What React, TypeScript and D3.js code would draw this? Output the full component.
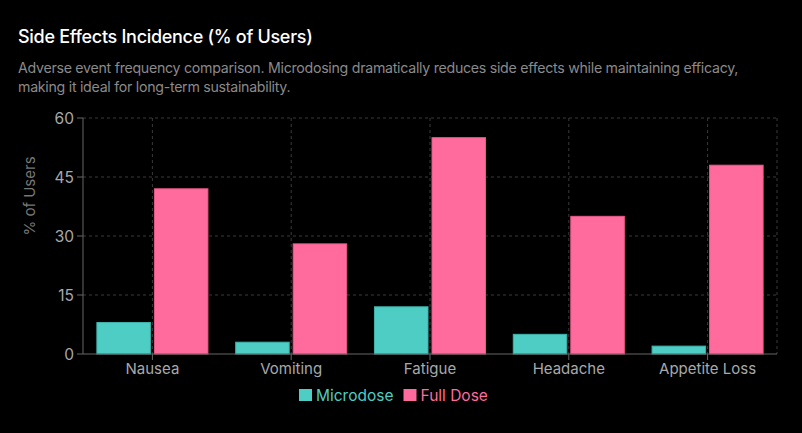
import { useEffect, useRef } from 'react';
import * as d3 from 'd3';

const CATEGORIES = ['Nausea', 'Vomiting', 'Fatigue', 'Headache', 'Appetite Loss'];
const MICRODOSE = [8, 3, 12, 5, 2];
const FULL_DOSE = [42, 28, 55, 35, 48];
const Y_TICKS = [0, 15, 30, 45, 60];

const SERIES = [
  { key: 'Microdose', values: MICRODOSE, color: '#4ecdc4', stroke: '#3fb3ab' },
  { key: 'Full Dose', values: FULL_DOSE, color: '#ff6b9d', stroke: '#e85a8a' },
];

const WIDTH = 802;
const HEIGHT = 433;
const FONT = 'Inter, "Noto Sans", sans-serif';

export default function App() {
  const svgRef = useRef<SVGSVGElement>(null);

  useEffect(() => {
    if (!svgRef.current) return;
    const svg = d3.select(svgRef.current);
    svg.selectAll('*').remove();

    const margin = { top: 118, right: 25, bottom: 79, left: 83 };
    const innerW = WIDTH - margin.left - margin.right;
    const innerH = HEIGHT - margin.top - margin.bottom;

    svg.append('rect').attr('width', WIDTH).attr('height', HEIGHT).attr('fill', '#000');

    // Header
    svg.append('text')
      .attr('x', 18).attr('y', 42.5)
      .attr('fill', '#fff')
      .attr('font-family', FONT)
      .attr('font-size', 18)
      .attr('font-weight', 500)
      .attr('letter-spacing', -0.3)
      .text('Side Effects Incidence (% of Users)');

    const sub = [
      'Adverse event frequency comparison. Microdosing dramatically reduces side effects while maintaining efficacy,',
      'making it ideal for long-term sustainability.',
    ];
    sub.forEach((line, i) => {
      svg.append('text')
        .attr('x', 18).attr('y', 73 + i * 18.5)
        .attr('fill', '#8a8a8a')
        .attr('font-family', FONT)
        .attr('font-size', 14.2)
        .attr('letter-spacing', -0.28)
        .text(line);
    });

    const g = svg.append('g').attr('transform', `translate(${margin.left},${margin.top})`);

    const y = d3.scaleLinear().domain([0, 60]).range([innerH, 0]);

    // category slots with 10% gap on each side, 4px between the two bars
    const x = d3.scaleBand<string>().domain(CATEGORIES).range([0, innerW]).padding(0);
    const slot = x.bandwidth();
    const barGap = 4;
    const pad = slot * 0.1;
    const barW = (slot - 2 * pad - barGap) / SERIES.length;

    // Grid
    const grid = g.append('g').attr('stroke', '#3a3a3a').attr('stroke-dasharray', '3 3');
    Y_TICKS.filter(t => t > 0).forEach(t => {
      grid.append('line').attr('x1', 0).attr('x2', innerW).attr('y1', y(t)).attr('y2', y(t));
    });
    CATEGORIES.forEach(c => {
      const cx = (x(c) ?? 0) + slot / 2;
      grid.append('line').attr('x1', cx).attr('x2', cx).attr('y1', 0).attr('y2', innerH);
    });
    grid.append('line').attr('x1', innerW).attr('x2', innerW).attr('y1', 0).attr('y2', innerH);

    // Bars
    SERIES.forEach((s, si) => {
      g.append('g')
        .selectAll('rect')
        .data(CATEGORIES)
        .join('rect')
        .attr('x', c => (x(c) ?? 0) + pad + si * (barW + barGap))
        .attr('y', (_, i) => y(s.values[i]))
        .attr('width', barW)
        .attr('height', (_, i) => innerH - y(s.values[i]))
        .attr('fill', s.color)
        .attr('stroke', s.stroke)
        .attr('stroke-width', 1);
    });

    // Axes
    const axisColor = '#666';
    const tickColor = '#a7a9ac';
    const xAxis = g.append('g').attr('transform', `translate(0,${innerH})`);
    xAxis.append('line').attr('x1', 0).attr('x2', innerW).attr('stroke', axisColor);
    CATEGORIES.forEach(c => {
      const cx = (x(c) ?? 0) + slot / 2;
      xAxis.append('line').attr('x1', cx).attr('x2', cx).attr('y1', 0).attr('y2', 6).attr('stroke', axisColor);
      xAxis.append('text')
        .attr('x', cx).attr('y', 20)
        .attr('text-anchor', 'middle')
        .attr('fill', tickColor)
        .attr('font-family', FONT)
        .attr('font-size', 15)
        .text(c);
    });

    const yAxis = g.append('g');
    yAxis.append('line').attr('y1', 0).attr('y2', innerH).attr('stroke', axisColor);
    Y_TICKS.forEach(t => {
      yAxis.append('line').attr('x1', -6).attr('x2', 0).attr('y1', y(t)).attr('y2', y(t)).attr('stroke', axisColor);
      yAxis.append('text')
        .attr('x', -9).attr('y', y(t))
        .attr('dy', '0.36em')
        .attr('text-anchor', 'end')
        .attr('fill', tickColor)
        .attr('font-family', FONT)
        .attr('font-size', 15.5)
        .text(t);
    });

    svg.append('text')
      .attr('transform', `translate(35,${margin.top + innerH / 2 - 40}) rotate(-90)`)
      .attr('text-anchor', 'middle')
      .attr('fill', '#777')
      .attr('font-family', FONT)
      .attr('font-size', 15)
      .text('% of Users');

    // Legend
    const legend = svg.append('g').attr('transform', `translate(299,389)`);
    let lx = 0;
    SERIES.forEach(s => {
      const item = legend.append('g').attr('transform', `translate(${lx},0)`);
      item.append('rect').attr('width', 13).attr('height', 12).attr('fill', s.color);
      const label = item.append('text')
        .attr('x', 17).attr('y', 6)
        .attr('dy', '0.36em')
        .attr('fill', s.color)
        .attr('font-family', FONT)
        .attr('font-size', 15.5)
        .text(s.key);
      const w = (label.node() as SVGTextElement).getComputedTextLength();
      lx += 17 + w + 10;
    });
  }, []);

  return (
    <div style={{ position: 'fixed', left: 0, top: 0, width: WIDTH, height: HEIGHT, background: '#000' }}>
      <svg ref={svgRef} width={WIDTH} height={HEIGHT} style={{ display: 'block' }} />
    </div>
  );
}
